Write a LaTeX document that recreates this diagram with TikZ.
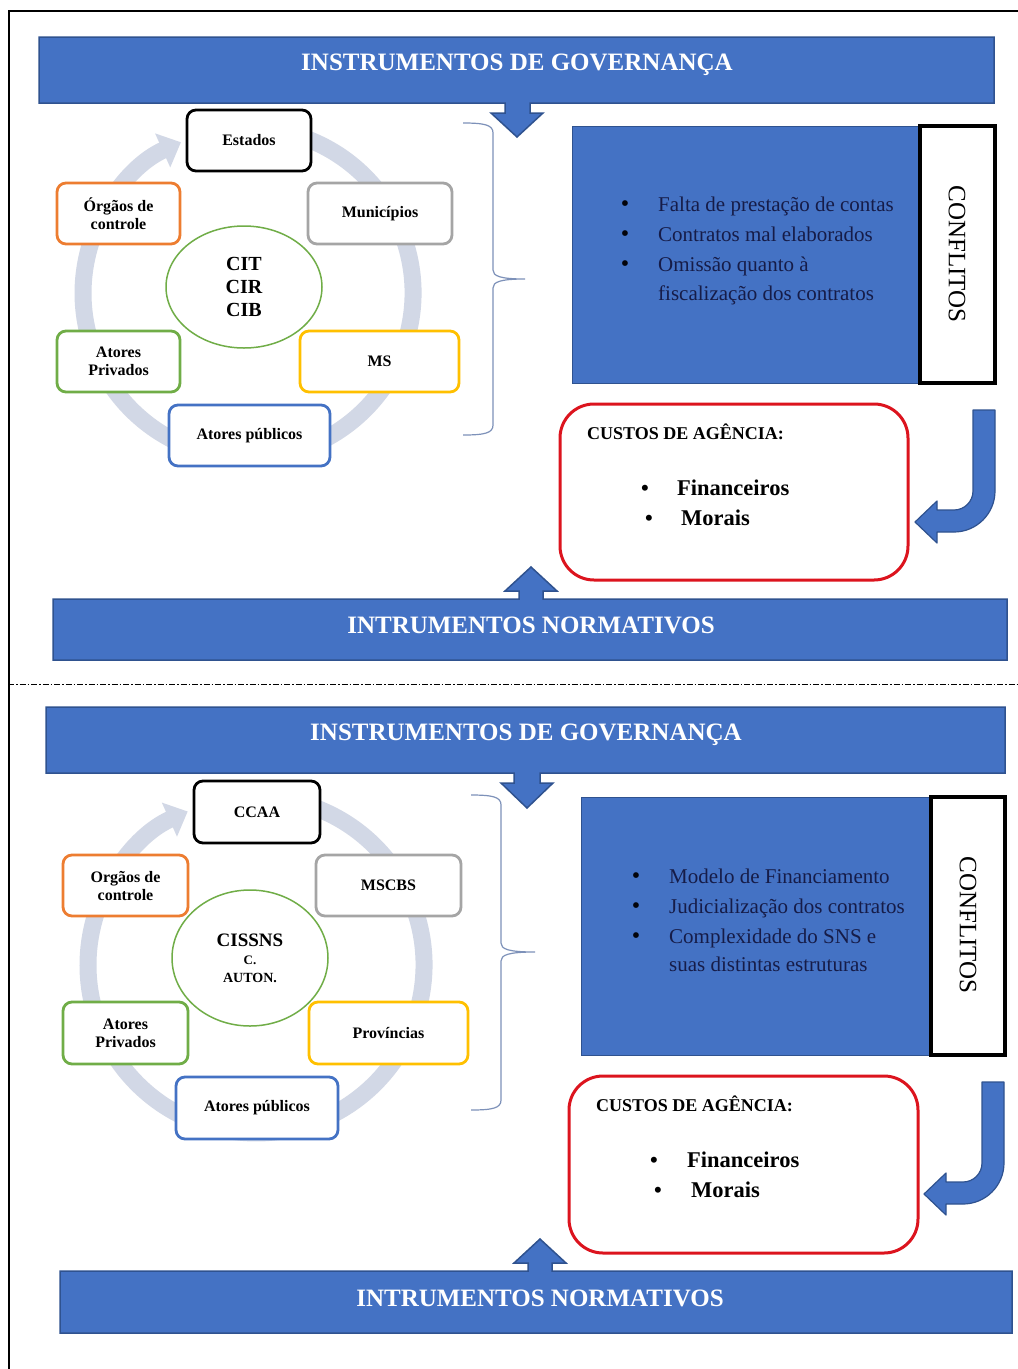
\documentclass[tikz,border=0pt]{standalone}
\usepackage{fontspec}
\setmainfont{Liberation Serif}
\usetikzlibrary{arrows.meta}
\definecolor{bannerblue}{RGB}{68,114,196}
\definecolor{bannerdark}{RGB}{47,82,143}
\definecolor{ringcol}{RGB}{210,216,230}
\definecolor{bracecol}{RGB}{125,145,185}
\definecolor{navytext}{RGB}{22,28,72}
\definecolor{orangeb}{RGB}{237,125,49}
\definecolor{grayb}{RGB}{165,165,165}
\definecolor{greenb}{RGB}{112,173,71}
\definecolor{yellowb}{RGB}{255,192,0}
\definecolor{blueb}{RGB}{68,114,196}
\definecolor{redb}{RGB}{220,20,30}
\tikzset{
  frameline/.style={line width=1.5pt, black},
  banner/.style={fill=bannerblue, draw=bannerdark, line width=1.5pt, line join=miter},
  bannertext/.style={text=white, anchor=base, font=\bfseries\fontsize{25}{28}\selectfont, inner sep=0pt},
  ring/.style={draw=ringcol, line width=17pt, -{Triangle[width=36pt,length=20pt]}},
  actor/.style={draw, rounded corners=9pt, line width=2.8pt, fill=white, align=center,
     font=\bfseries\fontsize{16}{18}\selectfont, inner sep=0pt},
  hub/.style={draw=greenb, ellipse, line width=1.5pt, fill=white, align=center, inner sep=0pt},
  bracestyle/.style={draw=bracecol, line width=1.2pt},
  conflictbox/.style={fill=bannerblue, draw=bannerdark, line width=1pt, inner sep=0pt},
  conflictlabel/.style={draw=black, fill=white, line width=3.5pt, inner sep=0pt},
  conflicttext/.style={rotate=-90, inner sep=0pt, font=\fontsize{25}{28}\selectfont},
  listtext/.style={anchor=base west, inner sep=0pt, text=navytext, font=\fontsize{21}{24}\selectfont},
  listbullet/.style={anchor=base, inner sep=0pt, text=black!85!navytext, font=\fontsize{24}{24}\selectfont},
  costbox/.style={draw=redb, line width=3pt, rounded corners=34pt, fill=white, inner sep=0pt},
  costtitle/.style={anchor=base west, inner sep=0pt, font=\bfseries\fontsize{18}{20}\selectfont},
  costitem/.style={anchor=base west, inner sep=0pt, font=\bfseries\fontsize{22.5}{24}\selectfont},
  costbullet/.style={anchor=base, inner sep=0pt, font=\bfseries\fontsize{22}{24}\selectfont},
  turnarrow/.style={fill=bannerblue, draw=bannerdark, line width=1.2pt, line join=round},
}
\usetikzlibrary{shapes.geometric}
\begin{document}
\begin{tikzpicture}[x=1pt,y=-1pt]
\useasboundingbox (0,0) rectangle (1018,1369);
\fill[white] (0,0) rectangle (1018,1369);
% frame
\draw[frameline] (8,11) -- (1018,11);
\draw[frameline] (9,11) -- (9,1369);
% separator
\draw[line width=1pt, dash pattern=on 6pt off 2pt on 1.5pt off 2pt] (8,684) -- (1018,684);

%================ TOP HALF ================
\draw[banner] (39,37) -- (994,37) -- (994,103) -- (530,103) -- (530,113) -- (543,113) -- (517,137) -- (491,113) -- (505,113) -- (505,103) -- (39,103) -- cycle;
\node[bannertext] (govA) at (517,70) {INSTRUMENTOS DE GOVERNANÇA};

\draw[banner] (53,599) -- (519,599) -- (519,591) -- (505,591) -- (531,567) -- (557,591) -- (543,591) -- (543,599) -- (1007,599) -- (1007,660) -- (53,660) -- cycle;
\node[bannertext] (normA) at (531,633) {INTRUMENTOS NORMATIVOS};

% cycle ring
\draw[ring] (276.7,130.5) arc[start angle=-80, end angle=246, radius=165];

\node[actor, draw=black, minimum width=124pt, minimum height=61pt] (estA) at (249,140.5) {Estados};
\node[actor, draw=orangeb, minimum width=123pt, minimum height=61pt] (orgA) at (118.5,213.5) {Órgãos de\\controle};
\node[actor, draw=grayb, minimum width=144pt, minimum height=61pt] (munA) at (380,213.5) {Municípios};
\node[hub, minimum width=156pt, minimum height=122pt, font=\bfseries\fontsize{20}{23}\selectfont] (hubA) at (244,287) {CIT\\CIR\\CIB};
\node[actor, draw=greenb, minimum width=123pt, minimum height=61pt] (privA) at (118.5,361.5) {Atores\\Privados};
\node[actor, draw=yellowb, minimum width=159pt, minimum height=61pt] (msA) at (379.5,361.5) {MS};
\node[actor, draw=blueb, minimum width=161pt, minimum height=61pt] (pubA) at (249.5,435.5) {Atores públicos};

% brace
\draw[bracestyle] (463,123) .. controls (485,123) and (493,125) .. (493,133) -- (493,270) .. controls (493,276) and (500,279) .. (525,279) .. controls (500,279) and (493,282) .. (493,288) -- (493,425) .. controls (493,433) and (485,435) .. (463,435);

% conflicts
\node[conflictbox, minimum width=348pt, minimum height=257pt] (confA) at (746,254.5) {};
\node[conflictlabel, minimum width=75pt, minimum height=257pt] (conflabA) at (957.5,254.5) {};
\node[conflicttext] (conftxtA) at (957,254) {CONFLITOS};
\node[listbullet] (bA1) at (625,211) {\textbullet};
\node[listbullet] (bA2) at (625,241) {\textbullet};
\node[listbullet] (bA3) at (625,271) {\textbullet};
\node[listtext] (lA1) at (658,211) {Falta de prestação de contas};
\node[listtext] (lA2) at (658,241) {Contratos mal elaborados};
\node[listtext] (lA3) at (658,271) {Omissão quanto à};
\node[listtext] (lA4) at (658,300) {fiscalização dos contratos};

% costs
\node[costbox, minimum width=348pt, minimum height=176pt] (costA) at (734,492) {};
\node[costtitle] (ctA) at (587,439) {CUSTOS DE AGÊNCIA:};
\node[costbullet] (cbA1) at (645,495) {\textbullet};
\node[costitem] (ciA1) at (677,495) {Financeiros};
\node[costbullet] (cbA2) at (649,525) {\textbullet};
\node[costitem] (ciA2) at (681,525) {Morais};

% turn arrow
\draw[turnarrow] (973,410) -- (995,410) -- (995,491) .. controls (995,513.6) and (976.6,532) .. (954,532) -- (937,532) -- (937,543) -- (915,522) -- (937,501) -- (937,510) -- (954,510) .. controls (964.5,510) and (973,501.5) .. (973,491) -- cycle;

%================ BOTTOM HALF ================
\draw[banner] (46,707) -- (1005,707) -- (1005,773) -- (540,773) -- (540,783) -- (553,783) -- (527,808) -- (501,783) -- (514,783) -- (514,773) -- (46,773) -- cycle;
\node[bannertext] (govB) at (526,740) {INSTRUMENTOS DE GOVERNANÇA};

\draw[banner] (60,1271) -- (528,1271) -- (528,1263) -- (514,1263) -- (540,1239) -- (566,1263) -- (552,1263) -- (552,1271) -- (1012,1271) -- (1012,1333) -- (60,1333) -- cycle;
\node[bannertext] (normB) at (540,1306) {INTRUMENTOS NORMATIVOS};

\draw[ring] (285.2,799.5) arc[start angle=-80, end angle=246, radius=168];

\node[actor, draw=black, minimum width=126pt, minimum height=62pt] (estB) at (257,812) {CCAA};
\node[actor, draw=orangeb, minimum width=125pt, minimum height=61pt] (orgB) at (125.5,885.5) {Orgãos de\\controle};
\node[actor, draw=grayb, minimum width=145pt, minimum height=61pt] (munB) at (388.5,885.5) {MSCBS};
\node[hub, minimum width=156pt, minimum height=136pt, font=\bfseries\fontsize{14}{18}\selectfont] (hubB) at (250,958) {{\fontsize{19}{20}\selectfont CISSNS}\\{\fontsize{13}{14}\selectfont C.}\\AUTON.};
\node[actor, draw=greenb, minimum width=125pt, minimum height=62pt] (privB) at (125.5,1033) {Atores\\Privados};
\node[actor, draw=yellowb, minimum width=159pt, minimum height=62pt] (msB) at (388.5,1033) {Províncias};
\node[actor, draw=blueb, minimum width=162pt, minimum height=62pt] (pubB) at (257,1108) {Atores públicos};

\draw[bracestyle] (471,795) .. controls (493,795) and (501,797) .. (501,805) -- (501,943) .. controls (501,949) and (508,952) .. (535,952) .. controls (508,952) and (501,955) .. (501,961) -- (501,1100) .. controls (501,1108) and (493,1110) .. (471,1110);

\node[conflictbox, minimum width=350pt, minimum height=258pt] (confB) at (756,926) {};
\node[conflictlabel, minimum width=74pt, minimum height=258pt] (conflabB) at (968,926) {};
\node[conflicttext] (conftxtB) at (968,925) {CONFLITOS};
\node[listbullet] (bB1) at (636,883) {\textbullet};
\node[listbullet] (bB2) at (636,913) {\textbullet};
\node[listbullet] (bB3) at (636,943) {\textbullet};
\node[listtext] (lB1) at (669,883) {Modelo de Financiamento};
\node[listtext] (lB2) at (669,913) {Judicialização dos contratos};
\node[listtext] (lB3) at (669,943) {Complexidade do SNS e};
\node[listtext] (lB4) at (669,971) {suas distintas estruturas};

\node[costbox, minimum width=349pt, minimum height=177pt] (costB) at (743.5,1164.5) {};
\node[costtitle] (ctB) at (596,1111) {CUSTOS DE AGÊNCIA:};
\node[costbullet] (cbB1) at (654,1167) {\textbullet};
\node[costitem] (ciB1) at (687,1167) {Financeiros};
\node[costbullet] (cbB2) at (658,1197) {\textbullet};
\node[costitem] (ciB2) at (691,1197) {Morais};

\begin{scope}[shift={(9,672)}]
\draw[turnarrow] (973,410) -- (995,410) -- (995,491) .. controls (995,513.6) and (976.6,532) .. (954,532) -- (937,532) -- (937,543) -- (915,522) -- (937,501) -- (937,510) -- (954,510) .. controls (964.5,510) and (973,501.5) .. (973,491) -- cycle;
\end{scope}
\end{tikzpicture}
\end{document}
